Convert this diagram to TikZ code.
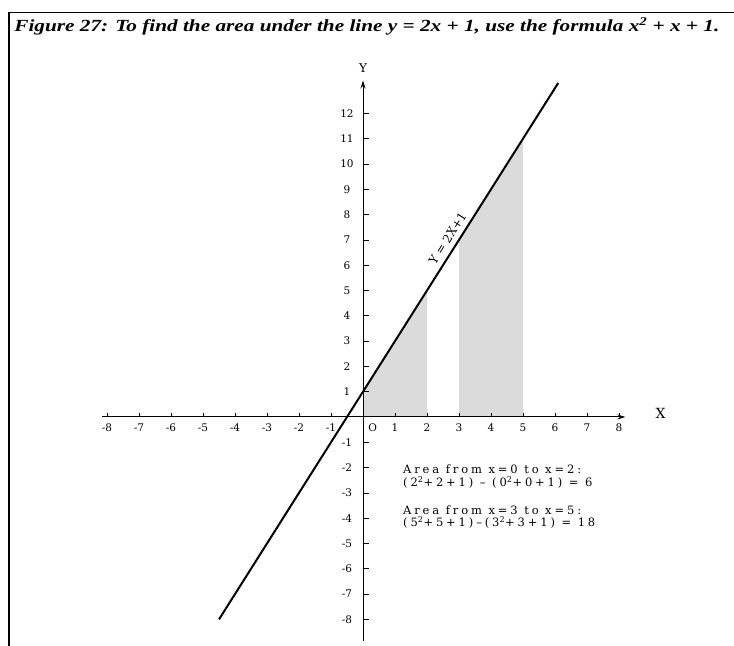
\documentclass[tikz,border=0pt]{standalone}
\usepackage{fontspec}
\setmainfont{Liberation Serif}
\newfontfamily\captionfont{Liberation Serif}[FakeStretch=1.25]
\newfontfamily\plotfont{DejaVu Serif}
\newfontfamily\areafont{DejaVu Serif}[LetterSpace=25]
\usetikzlibrary{arrows.meta,positioning}

\begin{document}
\begin{tikzpicture}[
  x=32pt, y=25.3pt,
  axis/.style={line width=1pt, -{Stealth[length=8pt,width=5pt]}},
  tick/.style={line width=0.6pt},
  num/.style={font=\plotfont\fontsize{10.5}{10.5}\selectfont, inner sep=1pt},
  area/.style={font=\areafont\fontsize{11.5}{12.5}\selectfont, align=left, anchor=north west, inner sep=0pt},
  shade/.style={fill=black!14},
  >=Stealth
]
\useasboundingbox (-11.344,-9.051) rectangle (11.594,16.482);
% frame and caption
\draw[line width=1.6pt] (-11.06,-9.3) -- (-11.06,15.98) -- (11.8,15.98);
\node[font=\captionfont\bfseries\itshape\fontsize{17}{17}\selectfont, anchor=west, inner sep=0pt] (caption) at (-10.9,15.45)
  {Figure 27: To find the area under the line y = 2x + 1, use the formula x\textsuperscript{2} + x + 1.};

% shaded areas
\fill[shade] (0,0) -- (0,1) -- (2,5) -- (2,0) -- cycle;
\fill[shade] (3,0) -- (3,7) -- (5,11) -- (5,0) -- cycle;

% axes
\coordinate (xl) at (-8.15,0);
\coordinate (xr) at (8.2,0);
\coordinate (yb) at (0,-8.85);
\coordinate (yt) at (0,13.3);
\draw[axis] (xl) -- (xr);
\draw[axis] (yb) -- (yt);
\node[num, font=\plotfont\fontsize{14}{14}\selectfont] (xlab) at (9.3,0.15) {X};
\node[num, font=\plotfont\fontsize{12}{12}\selectfont] (ylab) at (0,13.8) {Y};

\foreach \i in {-8,...,-1,1,2,...,8} {
  \draw[tick] (\i,0) -- (\i,0.17);
  \node[num] at (\i,-0.42) {\i};
}
\node[num] (orig) at (0.3,-0.42) {O};

\foreach \j in {-8,...,-1,1,2,...,12} {
  \draw[tick] (0,\j) -- (0.19,\j);
  \node[num] at (-0.5,\j) {\j};
}

% the line y = 2x + 1
\coordinate (lo) at (-4.5,-8);
\coordinate (hi) at (6.1,13.2);
\draw[line width=2pt] (lo) -- (hi) node[num, font=\plotfont\fontsize{12}{12}\selectfont, pos=0.7, sloped, above=4pt] (eq) {Y = 2X+1};

% worked areas
\node[area] (area1) at (1.25,-1.9) {Area from x=0 to x=2:\\(2\textsuperscript{2}+2+1) – (0\textsuperscript{2}+0+1) = 6};
\node[area] (area2) at (1.25,-3.5) {Area from x=3 to x=5:\\(5\textsuperscript{2}+5+1)–(3\textsuperscript{2}+3+1) = 18};
\end{tikzpicture}
\end{document}
